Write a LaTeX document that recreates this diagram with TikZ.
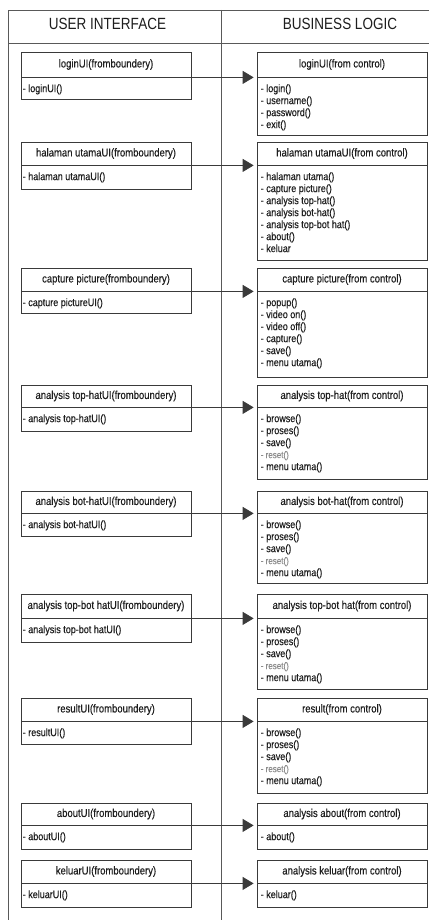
\documentclass[tikz,border=0pt]{standalone}
\usepackage{fontspec}
\usepackage{graphicx}
\setmainfont{Liberation Sans}[FakeBold=0.35]
\newfontfamily\hdrfont{Liberation Sans}
\usetikzlibrary{arrows.meta}
\definecolor{ln}{HTML}{3A3A3A}
\definecolor{tx}{HTML}{1E1E1E}
\newcommand{\vs}[1]{\scalebox{1}[1.2]{#1}}
\newcommand{\im}[1]{\scalebox{1}[1.2]{- #1}}
\newcommand{\rst}{\textcolor{black!45}{\fontsize{8}{12}\selectfont\scalebox{1}[1.2]{- reset()}}}
\newcommand{\umlbox}[8]{%
  \node[titlebox, minimum height={#4-#3}] (t#1) at ({#2+85},{(#3+#4)/2}) {\vs{#6}};
  \node[bodybox, minimum height={#5-#4}] (b#1) at ({#2+85},{(#4+#5)/2}) {};
  \node[items, anchor=north west] (i#1) at ([xshift=#8pt,yshift=-7.5pt]b#1.north west) {#7};
}
\begin{document}
\begin{tikzpicture}[x=1pt,y=-1pt,
  titlebox/.style={draw=ln, line width=0.8pt, minimum width=170pt, inner sep=0pt, text=tx, font=\fontsize{9.5}{11}\selectfont},
  bodybox/.style={draw=ln, line width=0.8pt, minimum width=170pt, inner sep=0pt},
  items/.style={inner sep=0pt, align=left, text=tx, font=\fontsize{9}{12}\selectfont},
  frame/.style={draw=black!65, line width=0.8pt},
  hdr/.style={inner sep=0pt, text=tx, font=\hdrfont\fontsize{13.5}{15}\selectfont},
  arr/.style={draw=ln, line width=0.8pt, -{Triangle[length=11pt,width=13pt]}, shorten >=3pt}]
\useasboundingbox (0,0) rectangle (429,920);
\fill[white] (0,0) rectangle (429,920);
% frame
\coordinate (ftl) at (8,10);
\coordinate (ftr) at (429,10);
\coordinate (fhl) at (8,43);
\coordinate (fhr) at (429,43);
\coordinate (fbl) at (8,920);
\coordinate (dtop) at (221,10);
\coordinate (dbot) at (221,920);
\draw[frame] (ftr) -- (ftl) -- (fbl);
\draw[frame] (fhl) -- (fhr);
\draw[frame] (dtop) -- (dbot);
\node[hdr] (h1) at (107.5,24) {\vs{USER INTERFACE}};
\node[hdr] (h2) at (340,24) {\vs{BUSINESS LOGIC}};
% boxes
\umlbox{L1}{21}{52}{77}{99}{loginUI(fromboundery)}{\im{loginUI()}}{2}
\umlbox{R1}{257}{52}{77}{135}{loginUI(from control)}{\im{login()}\\\im{username()}\\\im{password()}\\\im{exit()}}{4}
\umlbox{L2}{21}{142}{165}{189}{halaman utamaUI(fromboundery)}{\im{halaman utamaUI()}}{2}
\umlbox{R2}{257}{142}{165}{260}{halaman utamaUI(from control)}{\im{halaman utama()}\\\im{capture picture()}\\\im{analysis top-hat()}\\\im{analysis bot-hat()}\\\im{analysis top-bot hat()}\\\im{about()}\\\im{keluar}}{4}
\umlbox{L3}{21}{268}{291}{313}{capture picture(fromboundery)}{\im{capture pictureUI()}}{2}
\umlbox{R3}{257}{268}{291}{377}{capture picture(from control)}{\im{popup()}\\\im{video on()}\\\im{video off()}\\\im{capture()}\\\im{save()}\\\im{menu utama()}}{4}
\umlbox{L4}{21}{385}{407}{431}{analysis top-hatUI(fromboundery)}{\im{analysis top-hatUI()}}{2}
\umlbox{R4}{257}{385}{407}{479}{analysis top-hat(from control)}{\im{browse()}\\\im{proses()}\\\im{save()}\\\rst\\\im{menu utama()}}{4}
\umlbox{L5}{21}{491}{513}{536}{analysis bot-hatUI(fromboundery)}{\im{analysis bot-hatUI()}}{2}
\umlbox{R5}{257}{491}{513}{583}{analysis bot-hat(from control)}{\im{browse()}\\\im{proses()}\\\im{save()}\\\rst\\\im{menu utama()}}{4}
\umlbox{L6}{21}{594}{618}{642}{analysis top-bot hatUI(fromboundery)}{\im{analysis top-bot hatUI()}}{2}
\umlbox{R6}{257}{594}{618}{689}{analysis top-bot hat(from control)}{\im{browse()}\\\im{proses()}\\\im{save()}\\\rst\\\im{menu utama()}}{4}
\umlbox{L7}{21}{698}{721}{744}{resultUI(fromboundery)}{\im{resultUI()}}{2}
\umlbox{R7}{257}{698}{721}{793}{result(from control)}{\im{browse()}\\\im{proses()}\\\im{save()}\\\rst\\\im{menu utama()}}{4}
\umlbox{L8}{21}{803}{825}{849}{aboutUI(fromboundery)}{\im{aboutUI()}}{2}
\umlbox{R8}{257}{803}{825}{849}{analysis about(from control)}{\im{about()}}{4}
\umlbox{L9}{21}{860}{883}{907}{keluarUI(fromboundery)}{\im{keluarUI()}}{2}
\umlbox{R9}{257}{860}{883}{907}{analysis keluar(from control)}{\im{keluar()}}{4}
% arrows
\foreach \i in {1,...,9} {
  \draw[arr] (tL\i.south east) -- (tR\i.south west);
}
\end{tikzpicture}
\end{document}
